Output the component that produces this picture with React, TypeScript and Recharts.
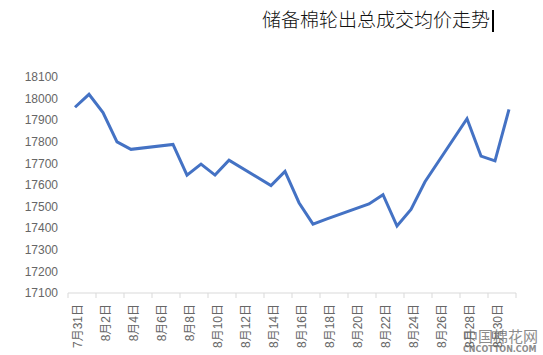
import { LineChart, Line, XAxis, YAxis } from "recharts";

// 7月31日 .. 8月31日, one category per day (weekends have no price)
const dates = [
  "7月31日", "8月1日", "8月2日", "8月3日", "8月4日", "8月5日", "8月6日", "8月7日",
  "8月8日", "8月9日", "8月10日", "8月11日", "8月12日", "8月13日", "8月14日", "8月15日",
  "8月16日", "8月17日", "8月18日", "8月19日", "8月20日", "8月21日", "8月22日", "8月23日",
  "8月24日", "8月25日", "8月26日", "8月27日", "8月28日", "8月29日", "8月30日", "8月31日",
];

const prices: (number | null)[] = [
  17960, 18020, 17935, 17800, 17765, null, null, 17788,
  17646, 17697, 17646, 17715, null, null, 17597, 17663,
  17518, 17419, 17443, null, null, 17512, 17555, 17410,
  17487, 17615, null, null, 17907, 17734, 17712, 17950,
];

const yTicks = [17100, 17200, 17300, 17400, 17500, 17600, 17700, 17800, 17900, 18000, 18100];

const data = dates.map((d, i) => ({ date: d, price: prices[i] }));

const BAND = 14; // one day's width, tick marks sit between days

function DateTick(props: any) {
  const { x, y, payload } = props;
  const isLast = payload.value === "8月30日";
  return (
    <g>
      <line x1={x - BAND / 2} y1={y - 8} x2={x - BAND / 2} y2={y - 3} stroke="#d9d9d9" />
      {isLast && (
        <line x1={x + BAND * 1.5} y1={y - 8} x2={x + BAND * 1.5} y2={y - 3} stroke="#d9d9d9" />
      )}
      <text
        transform={`translate(${x + 3},${y + 3}) rotate(-90)`}
        textAnchor="end"
        dy="0.35em"
        fill="#666"
        fontSize={12}
        fontFamily="'Liberation Sans', 'Noto Sans CJK SC', sans-serif"
      >
        {payload.value}
      </text>
    </g>
  );
}

export default function App() {
  return (
    <div style={{ position: "absolute", top: 0, left: 0, width: 543, height: 355, background: "#fff" }}>
      <LineChart
        width={543}
        height={355}
        data={data}
        margin={{ top: 77, right: 27, bottom: 12, left: 0 }}
      >
        <XAxis
          dataKey="date"
          scale="band"
          interval={1}
          height={50}
          tickLine={false}
          axisLine={{ stroke: "#d9d9d9" }}
          tick={<DateTick />}
        />
        <YAxis
          width={68}
          domain={[17100, 18100]}
          ticks={yTicks}
          interval={0}
          axisLine={false}
          tickLine={false}
          tick={{ fill: "#666", fontSize: 12, fontFamily: "'Liberation Sans', Arial, sans-serif" }}
          tickMargin={4}
        />
        <Line
          type="linear"
          dataKey="price"
          stroke="#4472C4"
          strokeWidth={3}
          dot={false}
          connectNulls
          isAnimationActive={false}
        />
        <text
          x={262}
          y={27}
          fontSize={19}
          fontWeight={300}
          fill="#111"
          fontFamily="'Noto Sans CJK SC', sans-serif"
        >
          储备棉轮出总成交均价走势
        </text>
        <rect x={492} y={10} width={2} height={22} fill="#000" />
        <text x={463} y={342} fontSize={15} fill="#8c8c8c" fontFamily="'Noto Sans CJK SC', sans-serif">
          中国棉花网
        </text>
        <text x={463} y={352} fontSize={8} fill="#8c8c8c" fontWeight="bold" fontFamily="'DejaVu Sans', sans-serif">
          CNCOTTON.COM
        </text>
      </LineChart>
    </div>
  );
}
